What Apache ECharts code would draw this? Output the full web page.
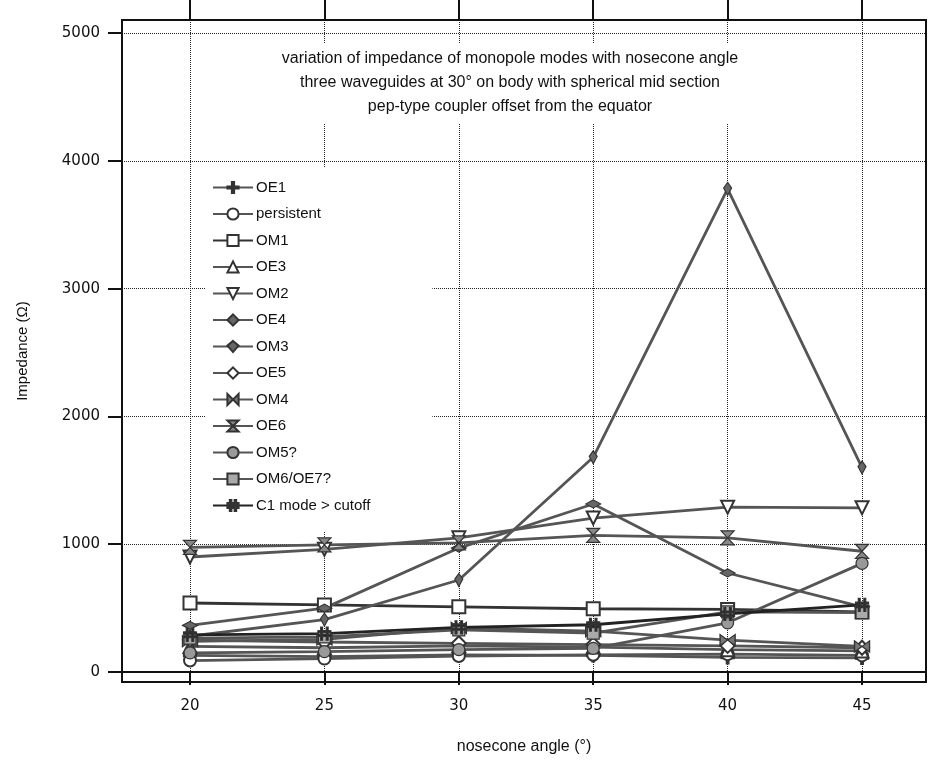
<!DOCTYPE html>
<html><head><meta charset="utf-8">
<script src="https://cdn.jsdelivr.net/npm/echarts@6/dist/echarts.min.js"></script>
<style>html,body{margin:0;padding:0;background:#fff}#c{width:932px;height:761px}</style>
</head><body><div id="c"></div>
<script>
// ---- data ----
const angles = [20, 25, 30, 35, 40, 45];
const xTicks = [20, 25, 30, 35, 40, 45];
const yTicks = [0, 1000, 2000, 3000, 4000, 5000];
const seriesNames = ['OE1', 'persistent', 'OM1', 'OE3', 'OM2', 'OE4', 'OM3', 'OE5', 'OM4', 'OE6', 'OM5?', 'OM6/OE7?', 'C1 mode > cutoff'];
const OE1        = [130, 120, 135, 130, 115, 110];
const persistent = [90, 105, 125, 135, 140, 130];
const OM1        = [540, 525, 510, 495, 490, 470];
const OE3        = [200, 190, 205, 195, 175, 165];
const OM2        = [900, 960, 1050, 1205, 1290, 1285];
const OE4        = [365, 500, 970, 1315, 775, 510];
const OM3        = [280, 410, 720, 1680, 3780, 1600];
const OE5        = [250, 235, 225, 215, 205, 190];
const OM4        = [240, 255, 345, 320, 250, 200];
const OE6        = [975, 995, 1010, 1070, 1050, 945];
const OM5        = [150, 160, 175, 185, 385, 850];
const OM6OE7     = [265, 275, 330, 305, 470, 465];
const C1         = [290, 300, 350, 370, 455, 525];
const seriesValues = [OE1, persistent, OM1, OE3, OM2, OE4, OM3, OE5, OM4, OE6, OM5, OM6OE7, C1];
const titleLines = [
  'variation of impedance of monopole modes with nosecone angle',
  'three waveguides at 30\u00b0 on body with spherical mid section',
  'pep-type coupler offset from the equator'
];
const xName = 'nosecone angle (\u00b0)';
const yName = 'Impedance (\u03a9)';

// ---- styles ----
const FONT = '"Liberation Sans", Arial, sans-serif';
const symbolStyles = [
  { symbol: 'path://M4,0h2v10h-2z M0,4h10v2h-10z', size: 13, fill: '#333' },              // plus
  { symbol: 'emptyCircle', size: 12 },
  { symbol: 'emptyRect', size: 13 },
  { symbol: 'emptyTriangle', size: 13 },
  { symbol: 'emptyTriangle', size: 13, rotate: 180 },
  { symbol: 'path://M0,4 L8,0 L16,4 L8,8 Z', size: [15, 8], fill: '#666' },              // flat diamond
  { symbol: 'path://M4,0 L8,6 L4,14 L0,6 Z', size: [8, 13], fill: '#666' },              // small vertical
  { symbol: 'emptyDiamond', size: 14 },
  { symbol: 'path://M0,0 L10,6 L0,12 Z M20,0 L10,6 L20,12 Z', size: [15, 11], fill: '#777' }, // bowtie
  { symbol: 'path://M0,0 L12,0 L6,7 Z M0,14 L12,14 L6,7 Z', size: [13, 14], fill: '#888' },   // hourglass
  { symbol: 'circle', size: 12, fill: '#999' },
  { symbol: 'rect', size: 12, fill: '#aaa' },
  { symbol: 'path://M3,0h2v14h-2z M9,0h2v14h-2z M0,4h14v2h-14z M0,8h14v2h-14z', size: 13, fill: '#222' } // hash
];
const lineColors = ['#555','#555','#333','#555','#555','#555','#555','#555','#555','#555','#555','#555','#222'];

const series = seriesNames.map((name, i) => {
  const st = symbolStyles[i];
  const isEmpty = String(st.symbol).indexOf('empty') === 0;
  return {
    name: name,
    type: 'line',
    data: angles.map((a, j) => [a, seriesValues[i][j]]),
    symbol: st.symbol,
    symbolSize: st.size,
    symbolRotate: st.rotate || 0,
    showAllSymbol: true,
    lineStyle: { color: lineColors[i], width: 2.8 },
    itemStyle: isEmpty
      ? { color: '#333', borderWidth: 2 }
      : { color: st.fill, borderColor: '#333', borderWidth: 1.2 },
    emphasis: { disabled: true },
    animation: false,
    z: 3
  };
});

const chart = echarts.init(document.getElementById('c'), null, { renderer: 'canvas' });
chart.setOption({
  backgroundColor: '#fff',
  animation: false,
  grid: { left: 122, right: 6, top: 20, bottom: 79, show: true, borderColor: '#111', borderWidth: 2, containLabel: false },
  xAxis: [{
    type: 'value', min: 17.47, max: 47.38,
    name: xName, nameLocation: 'middle', nameGap: 57,
    nameTextStyle: { fontFamily: FONT, fontSize: 16, color: '#111' },
    axisLine: { show: true, lineStyle: { color: '#111', width: 2 } },
    axisTick: { show: true, inside: false, length: 13, customValues: xTicks, lineStyle: { color: '#111', width: 2 } },
    axisLabel: { customValues: xTicks, margin: 17, fontFamily: '"DejaVu Sans", sans-serif', fontSize: 15, color: '#111',
                 formatter: v => String(v) },
    splitLine: { show: true, lineStyle: { color: '#222', type: 'dotted', width: 1 } }
  }, {
    type: 'value', min: 17.47, max: 47.38, position: 'top',
    axisLine: { show: true, lineStyle: { color: '#111', width: 2 } },
    axisTick: { show: true, inside: false, length: 20, customValues: xTicks, lineStyle: { color: '#111', width: 2 } },
    axisLabel: { show: false },
    splitLine: { show: false }
  }],
  yAxis: {
    type: 'value', min: -78, max: 5102,
    name: yName, nameLocation: 'middle', nameGap: 92, nameRotate: 90,
    nameTextStyle: { fontFamily: FONT, fontSize: 15, color: '#111' },
    axisLine: { show: true, lineStyle: { color: '#111', width: 2 } },
    axisTick: { show: true, inside: false, length: 14, customValues: yTicks, lineStyle: { color: '#111', width: 2 } },
    axisLabel: { customValues: yTicks, margin: 22, fontFamily: '"DejaVu Sans", sans-serif', fontSize: 15, color: '#111',
                 formatter: v => String(v) },
    splitLine: { show: true, lineStyle: { color: '#222', type: 'dotted', width: 1 } }
  },
  legend: {
    orient: 'vertical', left: 205, top: 168,
    padding: [12, 62, 18, 7],
    backgroundColor: '#fff',
    itemWidth: 40, itemHeight: 14, itemGap: 11.5,
    textStyle: { fontFamily: FONT, fontSize: 15, color: '#111', padding: [0, 0, 0, -2] },
    data: seriesNames,
    z: 10
  },
  graphic: [{
    type: 'text', z: 10,
    x: 510, y: 43,
    style: {
      text: titleLines.join('\n'),
      align: 'center', verticalAlign: 'top',
      font: '16px ' + FONT, lineHeight: 24, fill: '#111',
      backgroundColor: '#fff', padding: [4, 6, 4, 6]
    }
  }],
  series: series
});
</script></body></html>
